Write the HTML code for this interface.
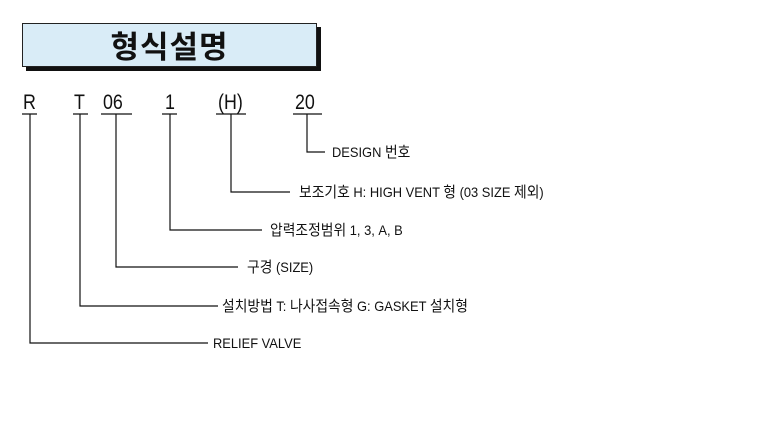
<!DOCTYPE html>
<html><head><meta charset="utf-8"><style>
body{margin:0;width:762px;height:441px;background:#fff;position:relative;overflow:hidden;font-family:"Liberation Sans","Noto Sans CJK KR",sans-serif;color:#111}
.t{position:absolute;font-size:14px;line-height:14px;white-space:nowrap;transform-origin:0 50%;transform:scaleX(0.92)}
.t span{font-size:15px}
.c{position:absolute;font-size:21px;line-height:21px;transform:scaleX(0.85);transform-origin:0 0}
</style></head><body>
<div style="position:absolute;left:26px;top:27px;width:295px;height:44px;background:#111"></div>
<div style="position:absolute;left:22px;top:23px;width:293px;height:42px;background:#d9ecf7;border:1px solid #222;text-align:center;font-size:31px;line-height:42px;font-weight:bold;font-family:'Noto Sans CJK KR',sans-serif;letter-spacing:1px">형식설명</div>
<div class="c" style="left:23px;top:92px">R</div>
<div class="c" style="left:74px;top:92px">T</div>
<div class="c" style="left:103px;top:92px">06</div>
<div class="c" style="left:165px;top:92px">1</div>
<div class="c" style="left:218px;top:92px">(H)</div>
<div class="c" style="left:295px;top:92px">20</div>
<svg width="762" height="441" style="position:absolute;left:0;top:0" stroke="#111" stroke-width="1.2" fill="none">
<path d="M22 114H37M30 114V343H208"/>
<path d="M73 114H88M80 114V306H218"/>
<path d="M101 114H132M116 114V267H238"/>
<path d="M162 114H177M170 114V230H262"/>
<path d="M216 114H246M231 114V192H290"/>
<path d="M293 114H322M307 114V152H325"/>
</svg>
<div class="t" style="left:332px;top:145px">DESIGN <span>번호</span></div>
<div class="t" style="left:299px;top:185px"><span>보조기호</span> H: HIGH VENT <span>형</span> (03 SIZE <span>제외</span>)</div>
<div class="t" style="left:270px;top:223px"><span>압력조정범위</span> 1, 3, A, B</div>
<div class="t" style="left:247px;top:260px"><span>구경</span> (SIZE)</div>
<div class="t" style="left:222px;top:299px"><span>설치방법</span> T: <span>나사접속형</span> G: GASKET <span>설치형</span></div>
<div class="t" style="left:213px;top:336px">RELIEF VALVE</div>
</body></html>
